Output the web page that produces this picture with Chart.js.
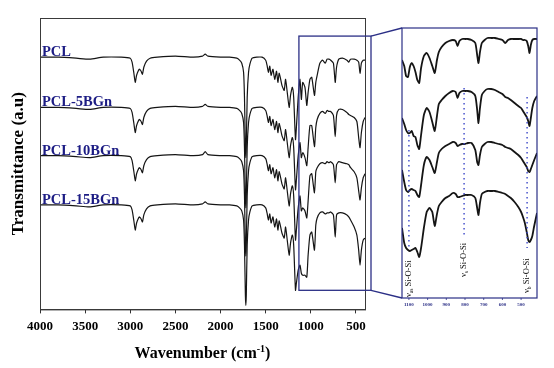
<!DOCTYPE html>
<html>
<head>
<meta charset="utf-8">
<script src="https://cdn.jsdelivr.net/npm/chart.js@4.4.0/dist/chart.umd.min.js"></script>
<style>
html,body{margin:0;padding:0;background:#fff;}
#wrap{position:relative;width:554px;height:368px;}
#main{position:absolute;left:0;top:0;}
#inset{position:absolute;left:396px;top:20px;}
</style>
</head>
<body>
<div id="wrap">
  <canvas id="main" width="554" height="368" style="width:554px;height:368px"></canvas>
  <canvas id="inset" width="150" height="300" style="width:150px;height:300px"></canvas>
</div>
<script>
// ---------- data: full spectra (wavenumber, cm-1) ----------
const mainWn = [4000,3800,3600,3450,3300,3100,3000,
  2980,2960,2945,2930,2900,2880,2865,2850,2820,2780,
  2700,2500,2300,2200,2170,2140,2000,1900,
  1820,1790,1765,1745,1735,1725,1720,1715,1705,1690,
  1675,1650,1600,1540,1500,1485,1470,1455,1440,1420,
  1400,1380,1365,1350,1320,1295,1280,1260,1240,1225,
  1205,1190,1170,1160,1140,1120,1105,1090,1065,1045,
  1030,1010,990,960,945,930,900,870,840,820,
  800,780,750,730,715,690,650,600,580,560,
  520,490,470,455,440,420,400];

// transmittance, arbitrary units (curves stacked)
const pcl = [251,251,250,249,251,251,250,
  246,235,226,233,239,237,234,241,247,250,
  251,252,251,252,254,252,251,251,
  250,248,245,236,211,161,151,161,211,236,
  244,250,251,251,248,243,236,242,233,239,
  229,237,226,235,223,218,229,215,201,213,
  221,211,169,181,211,229,209,226,221,203,
  216,229,231,213,226,233,245,248,245,249,
  249,248,245,226,241,249,250,248,246,249,
  249,248,246,235,245,248,248];
const bg5 = [201,201,200,199,201,201,200,
  196,185,176,183,189,187,184,191,197,200,
  201,202,201,202,204,202,201,201,
  200,198,195,186,161,111,101,111,161,186,
  194,200,201,201,198,193,186,192,183,189,
  179,187,176,185,173,168,179,165,151,163,
  171,161,119,129,153,166,151,156,151,143,
  161,183,183,162,181,189,195,197,195,198,
  197,197,193,172,193,199,199,196,194,193,
  191,187,171,161,176,187,191];
const bg10 = [153,153,152,151,153,153,152,
  148,137,128,135,141,139,136,143,149,152,
  153,154,153,154,157,154,153,153,
  152,150,147,138,113,63,53,63,113,138,
  146,152,153,153,150,145,138,144,135,141,
  131,139,128,137,125,120,131,117,103,115,
  123,113,69,79,101,113,98,101,98,91,
  108,133,135,116,137,141,145,146,145,147,
  146,147,144,126,144,147,146,145,144,141,
  137,131,118,109,121,131,135];
const bg15 = [104,104,103,102,104,104,103,
  99,88,79,86,92,90,87,94,100,103,
  104,105,104,105,107,105,104,104,
  103,101,98,89,64,14,4,14,64,89,
  97,103,104,104,101,96,89,95,86,92,
  82,90,79,88,76,71,82,68,54,66,
  74,64,19,26,39,44,36,34,34,32,
  54,74,77,59,84,91,96,97,95,96,
  96,97,94,72,94,96,96,94,92,89,
  82,74,59,44,59,69,71];

const seriesNames = ["PCL","PCL-5BGn","PCL-10BGn","PCL-15BGn"];
const seriesBase = [251,201,153,104];
const xTicks = [4000,3500,3000,2500,2000,1500,1000,500];

// zoomed region box (wavenumber start, top / bottom in a.u.)
const zoomFrom = 1132, zoomTop = 272, zoomBottom = 19;

// ---------- data: inset (1137-415 cm-1) ----------
const insetWn = [1137,1125,1115,1105,1095,1085,1075,1065,1055,1045,
  1035,1020,1005,990,975,962,950,940,925,905,
  885,865,850,840,830,815,800,785,765,745,
  735,728,720,710,695,680,660,640,620,600,
  585,570,555,535,515,500,490,480,470,462,
  455,448,440,430,415];
const inPcl = [238,232,222,221,231,235,232,226,218,215,
  230,242,245,240,232,225,238,246,251,255,
  257,258,257,252,257,259,259,259,258,255,
  243,235,246,255,258,260,260,260,259,258,
  255,258,259,259,259,259,258,258,257,252,
  245,253,258,259,259];
const inBg5 = [180,174,168,165,165,167,162,161,153,149,
  163,183,190,186,176,167,182,194,198,202,
  205,207,206,200,205,207,207,207,206,202,
  188,175,190,203,207,209,209,208,206,204,
  201,200,198,195,192,190,187,184,181,177,
  172,180,190,197,202];
const inBg10 = [128,116,108,106,108,109,108,107,103,101,
  113,133,141,138,131,125,136,145,149,152,
  154,156,155,152,153,154,154,155,155,148,
  136,133,143,151,154,156,156,155,154,153,
  151,150,149,146,143,140,137,134,131,127,
  126,129,133,138,145];
const inBg15 = [70,55,50,48,47,48,49,50,46,41,
  50,70,86,90,86,72,84,92,96,100,
  102,105,104,101,101,102,103,103,103,100,
  90,83,95,104,106,107,107,107,106,105,
  104,102,100,96,91,86,81,75,66,58,
  56,58,62,72,85];
const insetTicks = [1100,1000,900,800,700,600,500];

// band markers in the inset
const markWn = [1100,805,468];
const markTop = [168,210,201];
const markBottom = [48,60,50];
const markLabelAt = [1,21,5];
const markSub = ["as","s","b"];

const SERIF = "'Liberation Serif','Times New Roman',serif";
const NAVY = "#2b2f86";
const insetPos = {left:396, top:20, w:150, h:300};
const insetPad = {left:6, top:8, right:9, bottom:22};

function toPts(wn, vals){ return wn.map((w,i)=>({x:w, y:vals[i]})); }
function lineDs(wn, vals, w){
  return { data: toPts(wn, vals), borderColor:"#151515", borderWidth:w,
           pointRadius:0, tension:0.2, fill:false };
}

// =========== main chart ============
const mainDecor = {
  id:"mainDecor",
  afterDraw(chart){
    const ctx = chart.ctx, ca = chart.chartArea;
    const xs = chart.scales.x, ys = chart.scales.y;
    ctx.save();
    // frame
    ctx.strokeStyle = "#3a3a3a"; ctx.lineWidth = 1;
    ctx.strokeRect(ca.left+0.5, ca.top+0.5, ca.right-ca.left, ca.bottom-ca.top);
    // zoom box + connectors
    const bx = xs.getPixelForValue(zoomFrom), bx2 = ca.right + 6;
    const by1 = ys.getPixelForValue(zoomTop), by2 = ys.getPixelForValue(zoomBottom);
    ctx.strokeStyle = NAVY; ctx.lineWidth = 1.3;
    ctx.strokeRect(bx, by1, bx2-bx, by2-by1);
    const ix = insetPos.left + insetPad.left;
    ctx.beginPath();
    ctx.moveTo(bx2, by1); ctx.lineTo(ix, insetPos.top + insetPad.top);
    ctx.moveTo(bx2, by2); ctx.lineTo(ix, insetPos.top + insetPos.h - insetPad.bottom);
    ctx.stroke();
    // sample labels
    ctx.fillStyle = "#1c1c84";
    ctx.font = "bold 14.5px " + SERIF;
    ctx.textAlign = "left"; ctx.textBaseline = "alphabetic";
    seriesNames.forEach((n,i)=>{
      ctx.fillText(n, ca.left + 2, ys.getPixelForValue(seriesBase[i]) - 1);
    });
    // y title
    ctx.fillStyle = "#000";
    ctx.save();
    ctx.translate(19, (ca.top + ca.bottom)/2);
    ctx.rotate(-Math.PI/2);
    ctx.font = "bold 17px " + SERIF;
    ctx.textAlign = "center"; ctx.textBaseline = "middle";
    ctx.fillText("Transmittance (a.u)", 0, 0);
    ctx.restore();
    // x title with superscript
    const big = "bold 16px " + SERIF, small = "bold 10px " + SERIF;
    ctx.font = big; const w1 = ctx.measureText("Wavenumber (cm").width, w3 = ctx.measureText(")").width;
    ctx.font = small; const w2 = ctx.measureText("-1").width;
    let x = (ca.left + ca.right)/2 - (w1+w2+w3)/2, y = 358;
    ctx.textAlign = "left";
    ctx.font = big; ctx.fillText("Wavenumber (cm", x, y); x += w1;
    ctx.font = small; ctx.fillText("-1", x, y - 6); x += w2;
    ctx.font = big; ctx.fillText(")", x, y);
    ctx.restore();
  }
};

new Chart(document.getElementById("main"), {
  type:"line",
  data:{ datasets:[ lineDs(mainWn,pcl,1.2), lineDs(mainWn,bg5,1.2), lineDs(mainWn,bg10,1.2), lineDs(mainWn,bg15,1.2) ] },
  options:{
    responsive:false, animation:false, events:[],
    layout:{ padding:{ left:40, right:189, top:18, bottom:29 } },
    plugins:{ legend:{display:false}, tooltip:{enabled:false} },
    scales:{
      x:{ type:"linear", reverse:true, min:400, max:4000,
          afterBuildTicks: s => { s.ticks = xTicks.map(v=>({value:v})); },
          ticks:{ color:"#000", font:{ family:SERIF, size:13, weight:"bold" }, padding:5, maxRotation:0, autoSkip:false,
                  callback: v => String(v) },
          grid:{ drawOnChartArea:false, tickLength:4, color:"#333" },
          border:{ display:true, color:"#3a3a3a" } },
      y:{ display:false, min:0, max:290 }
    }
  },
  plugins:[mainDecor]
});

// =========== inset chart ============
const insetDecor = {
  id:"insetDecor",
  afterDraw(chart){
    const ctx = chart.ctx, ca = chart.chartArea;
    const xs = chart.scales.x, ys = chart.scales.y;
    ctx.save();
    ctx.strokeStyle = NAVY; ctx.lineWidth = 1.2;
    ctx.strokeRect(ca.left, ca.top, ca.right-ca.left, ca.bottom-ca.top);
    // ticks
    ctx.fillStyle = NAVY; ctx.font = "bold 5px " + SERIF;
    ctx.textAlign = "center"; ctx.textBaseline = "middle";
    ctx.lineWidth = 0.8;
    insetTicks.forEach(v=>{
      const x = xs.getPixelForValue(v);
      ctx.beginPath(); ctx.moveTo(x, ca.bottom); ctx.lineTo(x, ca.bottom+2); ctx.stroke();
      ctx.fillText(String(v), x, ca.bottom + 7);
    });
    // dotted band markers
    ctx.strokeStyle = "#3b47c8"; ctx.lineWidth = 1.4; ctx.setLineDash([1.4, 3.6]);
    markWn.forEach((w,i)=>{
      const x = xs.getPixelForValue(w);
      ctx.beginPath();
      ctx.moveTo(x, ys.getPixelForValue(markTop[i]));
      ctx.lineTo(x, ys.getPixelForValue(markBottom[i]));
      ctx.stroke();
    });
    ctx.setLineDash([]);
    // rotated labels
    ctx.fillStyle = "#111"; ctx.textAlign = "left"; ctx.textBaseline = "middle";
    markWn.forEach((w,i)=>{
      ctx.save();
      ctx.translate(xs.getPixelForValue(w), ys.getPixelForValue(markLabelAt[i]));
      ctx.rotate(-Math.PI/2);
      ctx.font = "8.5px " + SERIF;
      ctx.fillText("\u03bd", 0, 0);
      let x = ctx.measureText("\u03bd").width;
      ctx.font = "5.5px " + SERIF;
      ctx.fillText(markSub[i], x, 2.5);
      x += ctx.measureText(markSub[i]).width;
      ctx.font = "8.5px " + SERIF;
      ctx.fillText(" Si-O-Si", x, 0);
      ctx.restore();
    });
    ctx.restore();
  }
};

new Chart(document.getElementById("inset"), {
  type:"line",
  data:{ datasets:[ lineDs(insetWn,inPcl,1.8), lineDs(insetWn,inBg5,1.8), lineDs(insetWn,inBg10,1.8), lineDs(insetWn,inBg15,1.8) ] },
  options:{
    responsive:false, animation:false, events:[],
    layout:{ padding:insetPad },
    plugins:{ legend:{display:false}, tooltip:{enabled:false} },
    scales:{
      x:{ type:"linear", reverse:true, min:415, max:1137, display:false },
      y:{ min:0, max:270, display:false }
    }
  },
  plugins:[insetDecor]
});
</script>
</body>
</html>
